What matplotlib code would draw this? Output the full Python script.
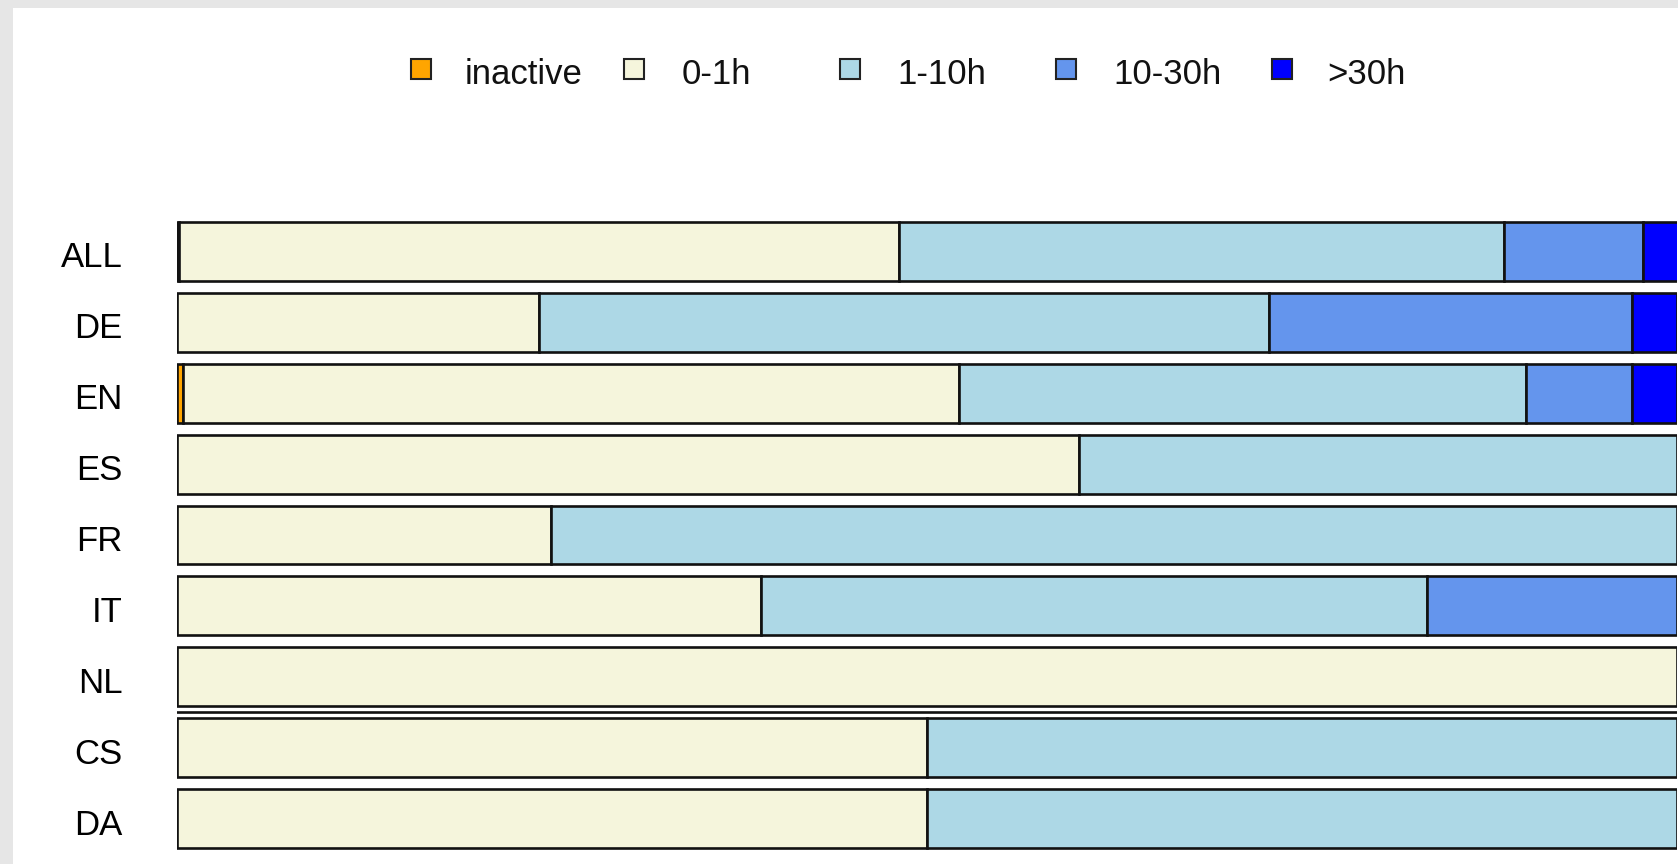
import matplotlib
matplotlib.use("Agg")
import matplotlib.pyplot as plt
from matplotlib.patches import Rectangle
from matplotlib.transforms import ScaledTranslation
import numpy as np

plt.rcParams['font.family'] = ['Liberation Sans', 'DejaVu Sans']

languages = ["ALL", "DE", "EN", "ES", "FR", "IT", "NL", "CS", "DA"]
series_names = ["inactive", "0-1h", "1-10h", "10-30h", ">30h"]
series_colors = ["orange", "beige", "lightblue", "cornflowerblue", "blue"]

inactive = [0.0015, 0.000, 0.004, 0.0, 0.0, 0.0, 0.0, 0.0, 0.0]
h0_1 = [0.480, 0.241, 0.517, 0.601, 0.249, 0.389, 1.0, 0.5, 0.5]
h1_10 = [0.403, 0.487, 0.378, 0.399, 0.751, 0.444, 0.0, 0.5, 0.5]
h10_30 = [0.093, 0.242, 0.071, 0.0, 0.0, 0.167, 0.0, 0.0, 0.0]
h30p = [0.023, 0.030, 0.030, 0.0, 0.0, 0.0, 0.0, 0.0, 0.0]
series_values = [inactive, h0_1, h1_10, h10_30, h30p]

W, H = 1678, 864
fig = plt.figure(figsize=(W / 100, H / 100), dpi=100)
fig.patch.set_facecolor("#e6e6e6")
fig.patches.append(Rectangle((13 / W, 0), 1 - 13 / W, 1 - 8 / H,
                             transform=fig.transFigure, facecolor="white",
                             edgecolor="none", zorder=-5))

ax = fig.add_axes([177 / W, 1 - 854 / H, 1500 / W, (854 - 216) / H])
ax.set_facecolor("none")
ax.set_zorder(2)

y = np.arange(len(languages))
left = np.zeros(len(languages))
for name, col, vals in zip(series_names, series_colors, series_values):
    vals = np.array(vals)
    mask = vals > 0
    ax.barh(y[mask], vals[mask], left=left[mask], height=0.83, color=col,
            edgecolor="#111111", linewidth=1.9)
    left += vals

ax.axhline(6.5, xmin=0, xmax=1, color="#111111", linewidth=1.9)

ax.set_xlim(0, 1)
ax.set_ylim(len(languages) - 0.5, -0.5)
ax.set_yticks(y)
ax.set_yticklabels(languages, fontsize=25)
ax.tick_params(axis="y", length=0, pad=39)
ax.set_xticks([])
for s in ax.spines.values():
    s.set_visible(False)
off = ScaledTranslation(0, -3 / 100, fig.dpi_scale_trans)
for lab in ax.get_yticklabels():
    lab.set_transform(lab.get_transform() + off)

# legend
sq_x = [411, 624, 840, 1056, 1272]
txt_x = [465, 682, 897, 1113, 1327]
yc = 69
for name, col, sx, tx in zip(series_names, series_colors, sq_x, txt_x):
    fig.patches.append(Rectangle((sx / W, 1 - (yc + 10) / H), 20 / W, 20 / H,
                                 transform=fig.transFigure, facecolor=col,
                                 edgecolor="#222222", linewidth=1.5, zorder=3))
    fig.text(tx / W, 1 - (yc + 6) / H, name, fontsize=25, ha="left", va="center",
             color="#111111")

fig.savefig("out.png", dpi=100, facecolor=fig.get_facecolor())
